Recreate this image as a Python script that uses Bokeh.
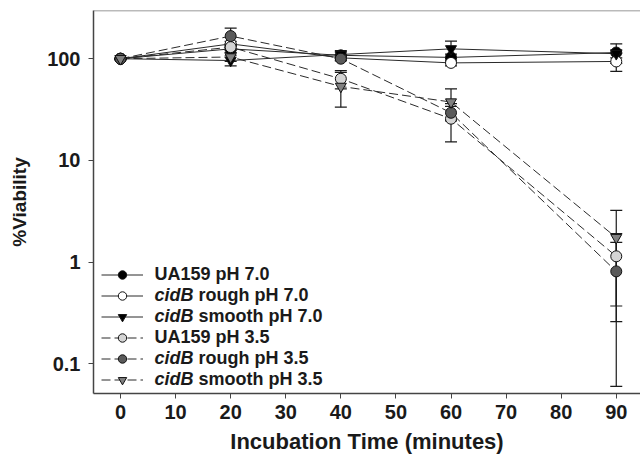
from bokeh.plotting import figure
from bokeh.models import (ColumnDataSource, Whisker, TeeHead, FixedTicker,
                          CustomJSTickFormatter, Legend, LegendItem, Span)
from bokeh.embed import file_html
from bokeh.resources import INLINE

# ---- data ----
times = [0, 20, 40, 60, 90]

ua159_ph70 = [100, 125, 108, 103, 115]
ua159_ph70_sd = [0, 10, 8, 8, 25]

rough_ph70 = [100, 140, 102, 91, 94]
rough_ph70_sd = [0, 8, 6, 6, 19]

smooth_ph70 = [100, 96, 110, 125, 112]
smooth_ph70_sd = [0, 11, 10, 24, 10]

ua159_ph35 = [100, 130, 63.5, 25.7, 1.14]
ua159_ph35_sd = [0, 10, 13, 10.5, 0.77]

rough_ph35 = [100, 167, 100, 29.4, 0.81]
rough_ph35_sd = [0, 33, 5, 4.6, 0.75]

smooth_ph35 = [100, 104, 53.4, 37.5, 1.74]
smooth_ph35_sd = [0, 10, 20, 13, 1.48]

x_ticks = [0, 10, 20, 30, 40, 50, 60, 70, 80, 90]
y_ticks = [0.1, 1, 10, 100]
y_tick_labels = ["0.1", "1", "10", "100"]

x_title = "Incubation Time (minutes)"
y_title = "%Viability"

# legend text: italic prefix (gene name) and plain remainder
legend_italic = ["", "cidB", "cidB", "", "cidB", "cidB"]
legend_plain = ["UA159 pH 7.0", "rough pH 7.0", "smooth pH 7.0",
                "UA159 pH 3.5", "rough pH 3.5", "smooth pH 3.5"]

FONT = "Liberation Sans"
TXT = "#1a1a1a"

p = figure(width=640, height=458, x_range=(-4.9, 94.4), y_range=(0.051, 298),
           y_axis_type="log", output_backend="svg", toolbar_location=None,
           min_border_left=93, min_border_right=0, min_border_top=10,
           min_border_bottom=65)
p.outline_line_color = None
p.grid.visible = False
p.background_fill_color = "white"

series = [
    (ua159_ph70, ua159_ph70_sd, "circle", "#000000", "solid"),
    (rough_ph70, rough_ph70_sd, "circle", "#ffffff", "solid"),
    (smooth_ph70, smooth_ph70_sd, "inverted_triangle", "#000000", "solid"),
    (ua159_ph35, ua159_ph35_sd, "circle", "#d4d4d4", "9 4"),
    (rough_ph35, rough_ph35_sd, "circle", "#5a5a5a", "9 4"),
    (smooth_ph35, smooth_ph35_sd, "inverted_triangle", "#808080", "9 4"),
]

sources = []
lines = []
for vals, sd, m, fill, dash in series:
    src = ColumnDataSource(dict(x=times, y=vals,
                                upper=[v + s for v, s in zip(vals, sd)],
                                lower=[v - s for v, s in zip(vals, sd)]))
    sources.append(src)
    lines.append(p.line("x", "y", source=src, line_color="#2a2a2a",
                        line_width=1, line_dash=dash))

for src in sources:
    w = Whisker(source=src, base="x", upper="upper", lower="lower",
                line_color="#1a1a1a", line_width=1.2,
                upper_head=TeeHead(size=12, line_color="#1a1a1a", line_width=1.2),
                lower_head=TeeHead(size=12, line_color="#1a1a1a", line_width=1.2))
    p.add_layout(w)

markers = []
for src, (vals, sd, m, fill, dash) in zip(sources, series):
    markers.append(p.scatter("x", "y", source=src, marker=m, size=11,
                             fill_color=fill, line_color="#111111", line_width=1))

# invisible renderer used only for text-only legend rows
dummy = p.scatter("x", "y", source=sources[0], size=1, fill_alpha=0, line_alpha=0)

# top frame line
p.add_layout(Span(location=298, dimension="width", line_color="#777777", line_width=1.5))

# ---- legend (several aligned legends to mix italic/normal text) ----
ROW_H = 21
Y0 = 3
GX = 8.4
GW = 42
STAND = 11
LFS = 18
TEXT_X = GX + GW + STAND
ITALIC_W = 2.445 * LFS  # width of "cidB " in bold italic


def add_legend(rows, labels, rends, x, style, glyph_w, standoff):
    leg = Legend(items=[LegendItem(label=l, renderers=r) for l, r in zip(labels, rends)],
                 location=(x, Y0 + (5 - rows[-1]) * ROW_H), padding=0, margin=0,
                 spacing=0, glyph_width=glyph_w, glyph_height=ROW_H,
                 label_height=ROW_H, label_standoff=standoff,
                 label_text_font=FONT, label_text_font_size=f"{LFS}px",
                 label_text_font_style=style, label_text_color=TXT,
                 border_line_color=None, background_fill_alpha=0)
    p.add_layout(leg)


for group in ([0], [1, 2], [3], [4, 5]):
    rends = [[lines[i], markers[i]] for i in group]
    if legend_italic[group[0]]:
        add_legend(group, [legend_italic[i] for i in group], rends, GX,
                   "bold italic", GW, STAND)
        add_legend(group, [legend_plain[i] for i in group],
                   [[dummy] for _ in group], TEXT_X + ITALIC_W, "bold", 0, 0)
    else:
        add_legend(group, [legend_plain[i] for i in group], rends, GX,
                   "bold", GW, STAND)

# axes
p.xaxis.ticker = FixedTicker(ticks=x_ticks)
p.yaxis.ticker = FixedTicker(ticks=y_ticks)
p.yaxis.formatter = CustomJSTickFormatter(
    args=dict(tvals=y_ticks, tlabels=y_tick_labels),
    code="const i = tvals.findIndex(t => Math.abs(Math.log10(t) - Math.log10(tick)) < 1e-6); return i >= 0 ? tlabels[i] : '';")

p.xaxis.axis_label = x_title
p.yaxis.axis_label = y_title
for ax in (p.xaxis, p.yaxis):
    ax.axis_line_color = "#444444"
    ax.axis_line_width = 1.5
    ax.major_tick_line_color = "#444444"
    ax.major_tick_out = 5
    ax.major_tick_in = 0
    ax.minor_tick_line_color = None
    ax.major_label_text_font = FONT
    ax.major_label_text_font_style = "bold"
    ax.major_label_text_font_size = "20px"
    ax.major_label_text_color = TXT
    ax.axis_label_text_font = FONT
    ax.axis_label_text_font_style = "bold"
    ax.axis_label_text_color = TXT
p.xaxis.axis_label_text_font_size = "22px"
p.yaxis.axis_label_text_font_size = "19px"
p.xaxis.major_label_standoff = 6
p.xaxis.axis_label_standoff = 7
p.yaxis.major_label_standoff = 8
p.yaxis.axis_label_standoff = 14

open("out.html", "w").write(file_html(p, INLINE))
